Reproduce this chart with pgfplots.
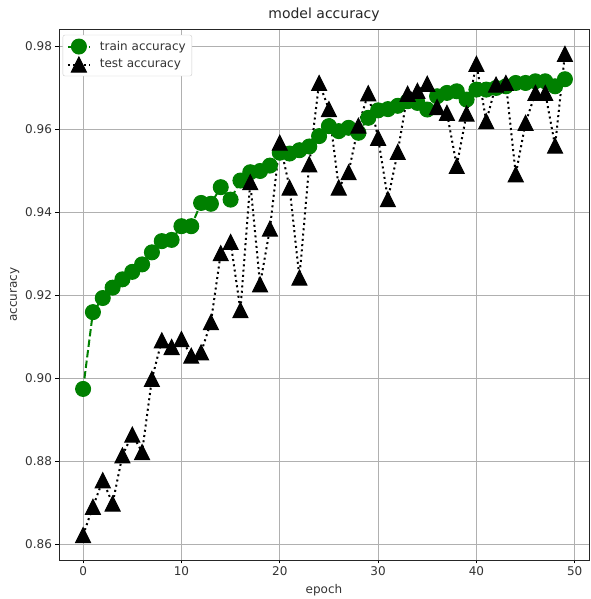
\documentclass[border=0pt]{standalone}
\usepackage{fontspec}
\setmainfont{DejaVu Sans}
\usepackage{pgfplots}
\usepackage{pgfplotstable}
\pgfplotsset{compat=1.18}
\definecolor{mplgreen}{RGB}{0,128,0}
\definecolor{gridgray}{RGB}{176,176,176}
\pgfdeclareplotmark{mtri}{%
  \pgfpathmoveto{\pgfqpoint{0pt}{\pgfplotmarksize}}%
  \pgfpathlineto{\pgfqpoint{-\pgfplotmarksize}{-\pgfplotmarksize}}%
  \pgfpathlineto{\pgfqpoint{\pgfplotmarksize}{-\pgfplotmarksize}}%
  \pgfpathclose
  \pgfusepathqfillstroke}

\pgfplotstableread{
epoch acc
0 0.8974
1 0.9159
2 0.9193
3 0.9218
4 0.9238
5 0.9256
6 0.9274
7 0.9303
8 0.9330
9 0.9333
10 0.9366
11 0.9366
12 0.9422
13 0.9420
14 0.9460
15 0.9430
16 0.9476
17 0.9496
18 0.9499
19 0.9512
20 0.9543
21 0.9541
22 0.9549
23 0.9558
24 0.9583
25 0.9607
26 0.9595
27 0.9603
28 0.9591
29 0.9627
30 0.9645
31 0.9648
32 0.9656
33 0.9667
34 0.9663
35 0.9647
36 0.9679
37 0.9687
38 0.9691
39 0.9671
40 0.9695
41 0.9695
42 0.9699
43 0.9703
44 0.9711
45 0.9711
46 0.9715
47 0.9715
48 0.9703
49 0.9720
}\traintable

\pgfplotstableread{
epoch acc
0 0.8622
1 0.8690
2 0.8754
3 0.8698
4 0.8814
5 0.8864
6 0.8822
7 0.8998
8 0.9091
9 0.9075
10 0.9094
11 0.9054
12 0.9062
13 0.9135
14 0.9301
15 0.9328
16 0.9164
17 0.9472
18 0.9226
19 0.9360
20 0.9567
21 0.9459
22 0.9242
23 0.9515
24 0.9711
25 0.9648
26 0.9459
27 0.9496
28 0.9608
29 0.9686
30 0.9579
31 0.9431
32 0.9545
33 0.9685
34 0.9692
35 0.9709
36 0.9653
37 0.9639
38 0.9511
39 0.9637
40 0.9757
41 0.9619
42 0.9707
43 0.9711
44 0.9491
45 0.9615
46 0.9687
47 0.9687
48 0.9560
49 0.9781
}\testtable

\begin{document}
\begin{tikzpicture}
\useasboundingbox (-59pt,-39pt) rectangle (531pt,560pt);
\begin{axis}[
  at={(0pt,0pt)}, anchor=south west,
  scale only axis, width=530pt, height=531pt,
  xmin=-2.45, xmax=51.45, ymin=0.8562, ymax=0.9841,
  xtick={0,10,20,30,40,50},
  ytick={0.86,0.88,0.90,0.92,0.94,0.96,0.98},
  scaled y ticks=false,
  grid=major,
  major grid style={gridgray, line width=0.8pt},
  axis line style={line width=0.8pt, black!85},
  tick style={black, line width=0.8pt},
  tick align=outside, major tick length=3.5pt,
  tick pos=left,
  ticklabel style={font=\fontsize{12}{14}\selectfont, text=black!80},
  /pgf/number format/assume math mode=true,
  yticklabel style={/pgf/number format/fixed, /pgf/number format/fixed zerofill, /pgf/number format/precision=2},
  xlabel={epoch}, ylabel={accuracy},
  label style={font=\fontsize{12}{14}\selectfont, text=black!80},
  xlabel style={yshift=-1pt},
  ylabel style={yshift=-1pt},
  title={model accuracy},
  title style={font=\fontsize{14}{16}\selectfont, text=black!85, yshift=-2pt},
  legend cell align=left,
  legend style={at={(0.007,0.989)}, anchor=north west, draw=black!20,
    rounded corners=2pt, fill=white,
    font=\fontsize{12}{14}\selectfont, text=black!80, row sep=3pt,
    inner xsep=4pt, inner ysep=4pt,
    /tikz/every odd column/.append style={column sep=7pt}},
  legend image code/.code={%
    \draw[mark repeat=2,mark phase=2] plot coordinates {(0pt,0pt) (11pt,0pt) (22pt,0pt)};},
]
\addplot[mplgreen, line width=2pt, dash pattern=on 7.4pt off 3.2pt,
  mark=*, mark size=7.5pt, mark options={solid, fill=mplgreen, line width=1pt}]
  table[x=epoch, y=acc] {\traintable};
\addlegendentry{train accuracy}
\addplot[black, line width=2pt, dash pattern=on 2pt off 3.3pt,
  mark=mtri, mark size=7.5pt, mark options={solid, fill=black, line width=1pt}]
  table[x=epoch, y=acc] {\testtable};
\addlegendentry{test accuracy}
\end{axis}
\end{tikzpicture}
\end{document}
